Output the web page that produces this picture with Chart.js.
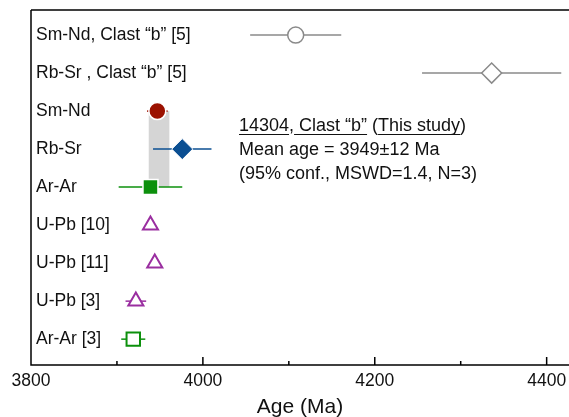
<!DOCTYPE html>
<html>
<head>
<meta charset="utf-8">
<script src="https://cdn.jsdelivr.net/npm/chart.js@4.4.0/dist/chart.umd.min.js"></script>
<style>
  html, body { margin: 0; padding: 0; background: #fff; }
  #wrap { width: 569px; height: 417px; }
</style>
</head>
<body>
<div id="wrap"><canvas id="ageChart" width="569" height="417"></canvas></div>
<script>
// rows, top to bottom
const rowLabels = ['Sm-Nd, Clast “b” [5]', 'Rb-Sr , Clast “b” [5]', 'Sm-Nd', 'Rb-Sr', 'Ar-Ar',
    'U-Pb [10]', 'U-Pb [11]', 'U-Pb [3]', 'Ar-Ar [3]'];
const ages = [4108, 4336, 3947, 3976, 3939, 3939, 3944, 3922, 3919];
const errors = [53, 81, 12, 34, 37, 3, 3, 12, 14];
const meanAge = 3949;
const meanErr = 12;
const meanRows = [2, 4];
const xTicks = [3800, 4000, 4200, 4400];
const xMinorTicks = [3900, 4100, 4300];
const noteLines = ['14304, Clast “b” (This study)', 'Mean age = 3949±12 Ma', '(95% conf., MSWD=1.4, N=3)'];

const FONT = '"Liberation Sans", Arial, Helvetica, sans-serif';
const GRAY = '#8a8a8a', RED = '#9b1100', BLUE = '#0b4f92', GREEN = '#0c900c', PURPLE = '#9a2ea0';

const markerStyle = ['circle', 'rectRot', 'circle', 'rectRot', 'rect', 'triangle', 'triangle', 'triangle', 'rect'];
const markerSize = [8, 10, 8.5, 10.5, 10.6, 8.7, 8.7, 8.7, 9.5];
const markerFill = ['#fff', '#fff', RED, BLUE, GREEN, '#fff', '#fff', '#fff', '#fff'];
const markerEdge = [GRAY, GRAY, '#fff', '#fff', '#fff', PURPLE, PURPLE, PURPLE, GREEN];
const markerEdgeW = [1.5, 1.5, 1.5, 1, 1.5, 2, 2, 2, 2];
const barColor = [GRAY, GRAY, RED, BLUE, GREEN, PURPLE, PURPLE, PURPLE, GREEN];

const decor = {
    id: 'decor',
    beforeDatasetsDraw(chart) {
        const { ctx, chartArea: a, scales: { x, y } } = chart;
        ctx.save();
        // mean age band
        const bx0 = x.getPixelForValue(meanAge - meanErr);
        const bx1 = x.getPixelForValue(meanAge + meanErr);
        const by0 = y.getPixelForValue(meanRows[0]);
        const by1 = y.getPixelForValue(meanRows[1]);
        ctx.fillStyle = '#d5d5d5';
        ctx.fillRect(bx0, by0, bx1 - bx0, by1 - by0);
        // error bars
        ctx.lineWidth = 1.5;
        ages.forEach((v, i) => {
            const py = y.getPixelForValue(i);
            ctx.strokeStyle = barColor[i];
            ctx.beginPath();
            ctx.moveTo(x.getPixelForValue(v - errors[i]), py);
            ctx.lineTo(x.getPixelForValue(v + errors[i]), py);
            ctx.stroke();
        });
        // row labels
        ctx.fillStyle = '#111';
        ctx.font = '17.5px ' + FONT;
        ctx.textBaseline = 'middle';
        ctx.textAlign = 'left';
        rowLabels.forEach((t, i) => ctx.fillText(t, a.left + 5, y.getPixelForValue(i)));
        // note
        ctx.font = '18px ' + FONT;
        const nx = 239;
        noteLines.forEach((t, i) => ctx.fillText(t, nx, 126 + i * 24));
        // underline parts of first line
        const head = noteLines[0];
        const parts = [[0, 5], [6, 16], [18, 28]];
        ctx.strokeStyle = '#111';
        ctx.lineWidth = 1;
        parts.forEach(([s, e]) => {
            const u0 = nx + ctx.measureText(head.slice(0, s)).width;
            const u1 = nx + ctx.measureText(head.slice(0, e)).width;
            ctx.beginPath();
            ctx.moveTo(u0, 134.5);
            ctx.lineTo(u1, 134.5);
            ctx.stroke();
        });
        ctx.restore();
    },
    afterDatasetsDraw(chart) {
        const { ctx, chartArea: a, scales: { x } } = chart;
        ctx.save();
        ctx.strokeStyle = '#000';
        ctx.lineWidth = 1.5;
        ctx.beginPath();
        ctx.moveTo(a.left, a.top);
        ctx.lineTo(chart.width, a.top);
        ctx.moveTo(a.left, a.top);
        ctx.lineTo(a.left, a.bottom);
        ctx.lineTo(chart.width, a.bottom);
        // inward ticks
        xTicks.concat(xMinorTicks).forEach(v => {
            const px = x.getPixelForValue(v);
            ctx.moveTo(px, a.bottom);
            ctx.lineTo(px, a.bottom - (xTicks.includes(v) ? 8 : 4));
        });
        ctx.stroke();
        ctx.restore();
    }
};

new Chart(document.getElementById('ageChart'), {
    type: 'scatter',
    data: {
        datasets: [{
            data: ages.map((v, i) => ({ x: v, y: i })),
            pointStyle: markerStyle,
            pointRadius: markerSize,
            pointHoverRadius: markerSize,
            backgroundColor: markerFill,
            borderColor: markerEdge,
            borderWidth: markerEdgeW,
        }],
    },
    options: {
        responsive: false,
        animation: false,
        events: [],
        layout: { autoPadding: false, padding: { left: 31, top: 10, right: 0, bottom: 0 } },
        plugins: { legend: { display: false }, tooltip: { enabled: false } },
        scales: {
            x: {
                type: 'linear',
                min: 3800,
                max: 4426,
                afterBuildTicks: s => { s.ticks = xTicks.map(v => ({ value: v })); },
                afterFit: s => {
                    s.height = 52;
                    s.paddingLeft = 0;
                    s.paddingRight = 0;
                },
                grid: { display: false, drawTicks: false },
                border: { display: false },
                ticks: {
                    autoSkip: false,
                    maxRotation: 0,
                    padding: 6,
                    color: '#111',
                    font: { family: FONT, size: 17.5 },
                    callback: v => String(v),
                },
                title: {
                    display: true,
                    text: 'Age (Ma)',
                    color: '#111',
                    font: { family: FONT, size: 21, lineHeight: 1 },
                    padding: { top: 0, bottom: -1 },
                },
            },
            y: {
                type: 'linear',
                display: false,
                reverse: true,
                min: -0.66,
                max: 8.68,
            },
        },
    },
    plugins: [decor],
});
</script>
</body>
</html>
